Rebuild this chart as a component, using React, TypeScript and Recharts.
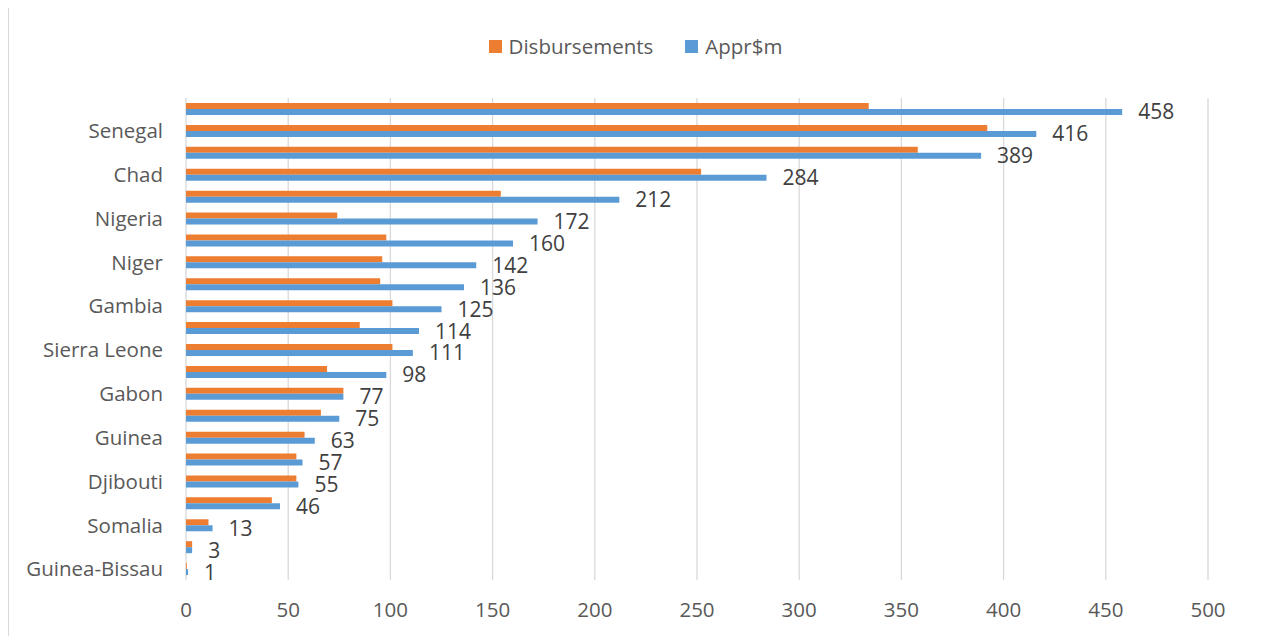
import React from "react";
import {
  BarChart,
  Bar,
  XAxis,
  YAxis,
  CartesianGrid,
  Legend,
  LabelList,
} from "recharts";

// rows listed top to bottom; only every second row carries a label
const countries = [
  "", "Senegal", "", "Chad", "", "Nigeria", "", "Niger", "", "Gambia", "",
  "Sierra Leone", "", "Gabon", "", "Guinea", "", "Djibouti", "", "Somalia", "",
  "Guinea-Bissau",
];
const approvals = [
  458, 416, 389, 284, 212, 172, 160, 142, 136, 125, 114, 111, 98, 77, 75, 63,
  57, 55, 46, 13, 3, 1,
];
const disbursements = [
  334, 392, 358, 252, 154, 74, 98, 96, 95, 101, 85, 101, 69, 77, 66, 58, 54,
  54, 42, 11, 3, 0.4,
];
const xTicks = [0, 50, 100, 150, 200, 250, 300, 350, 400, 450, 500];

const series = [
  { key: "disb", name: "Disbursements", color: "#ED7D31" },
  { key: "appr", name: "Appr$m", color: "#5B9BD5" },
];

const data = countries.map((c, i) => ({
  row: i,
  disb: disbursements[i],
  appr: approvals[i],
}));

const FONT = '"Open Sans", sans-serif';
const textColor = "#595959";

function ChartLegend() {
  return (
    <div
      style={{
        display: "flex",
        justifyContent: "center",
        alignItems: "center",
        gap: 32,
        fontFamily: FONT,
        fontSize: 20.5,
        color: textColor,
        lineHeight: "22px",
        paddingLeft: 8,
      }}
    >
      {series.map((s) => (
        <div key={s.key} style={{ display: "flex", alignItems: "center" }}>
          <span
            style={{
              width: 13,
              height: 13,
              background: s.color,
              marginRight: 7,
              display: "inline-block",
            }}
          />
          <span>{s.name}</span>
        </div>
      ))}
    </div>
  );
}

export default function App() {
  return (
    <div
      style={{
        position: "relative",
        width: 1247,
        height: 631,
        marginTop: -1,
        border: "1px solid #d9d9d9",
        boxSizing: "border-box",
        background: "#fff",
        fontFamily: FONT,
      }}
    >
      <BarChart
        width={1245}
        height={628}
        data={data}
        layout="vertical"
        margin={{ top: 90, right: 46, left: 0, bottom: 0 }}
        barGap={0}
        barSize={6}
      >
        <CartesianGrid horizontal={false} stroke="#d9d9d9" strokeWidth={1.3} />
        <XAxis
          type="number"
          domain={[0, 500]}
          ticks={xTicks}
          height={56}
          axisLine={false}
          tickLine={false}
          tickSize={0}
          tickMargin={22}
          tick={{ fill: textColor, fontSize: 20.5, fontFamily: FONT }}
        />
        <YAxis
          type="category"
          dataKey="row"
          width={177}
          interval={0}
          axisLine={false}
          tickLine={false}
          tickSize={0}
          tickMargin={23}
          tickFormatter={(v: number) => countries[v]}
          tick={{ fill: textColor, fontSize: 20.5, fontFamily: FONT }}
        />
        <Legend
          layout="horizontal"
          verticalAlign="middle"
          wrapperStyle={{ top: 27, left: 0, width: 1245 }}
          content={() => <ChartLegend />}
        />
        <Bar
          dataKey="disb"
          name="Disbursements"
          fill="#ED7D31"
          isAnimationActive={false}
        />
        <Bar dataKey="appr" name="Appr$m" fill="#5B9BD5" isAnimationActive={false}>
          <LabelList
            dataKey="appr"
            position="right"
            offset={16}
            fill="#404040"
            fontSize={21}
            fontFamily={FONT}
          />
        </Bar>
      </BarChart>
    </div>
  );
}
